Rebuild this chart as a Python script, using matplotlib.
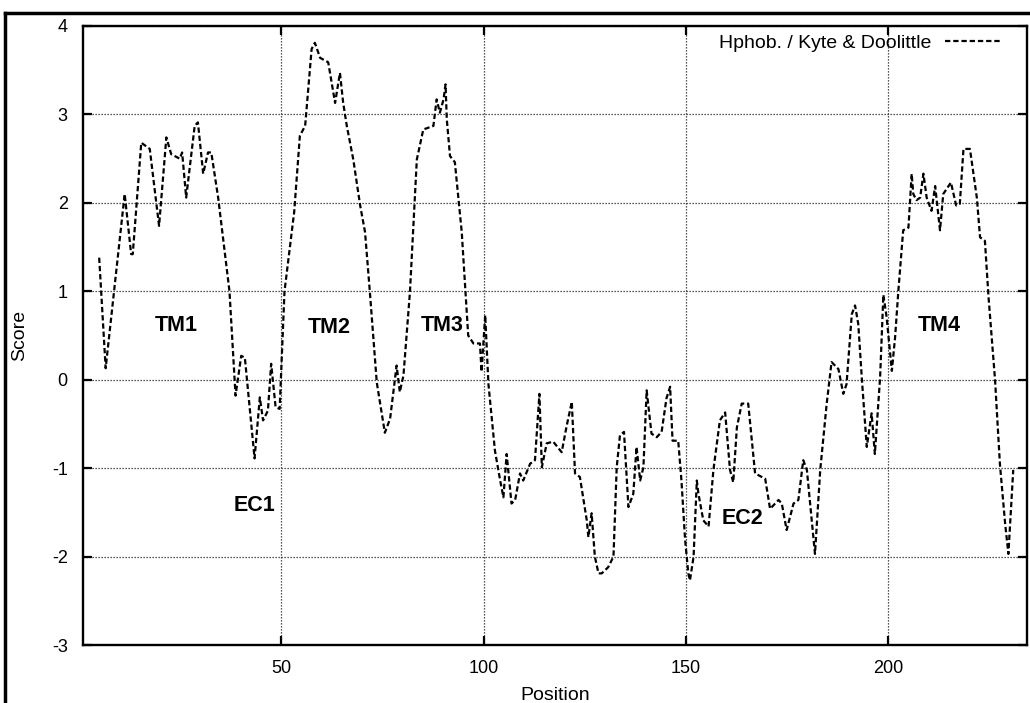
import numpy as np
import matplotlib
matplotlib.use('Agg')
import matplotlib.pyplot as plt
from matplotlib.lines import Line2D

plt.rcParams['font.family'] = ['Liberation Sans', 'DejaVu Sans']
plt.rcParams['axes.unicode_minus'] = False

# hydropathy profile vertices (position, score)
position = [5, 6.6, 11.3, 12.9, 13.3, 15.4, 17.5, 19.8, 21.6, 22.8, 24.9, 25.5, 26.5,
            28.6, 29.4, 30.7, 31.9, 32.7, 34.4, 37.2, 38.5, 38.7, 40.1, 41.0, 43.4,
            44.7, 45.5, 46.7, 47.5, 48.6, 49.6, 50.8, 53.2, 54.6, 55.9, 57.5, 58.3,
            59.6, 61.6, 63.3, 64.5, 65.3, 66.2, 67.8, 69.5, 70.7, 71.9, 73.6, 75.6,
            76.9, 78.5, 79.3, 80.2, 81.8, 83.5, 85.1, 87.6, 88.4, 89.2, 90.1, 90.6,
            90.9, 91.7, 92.9, 94.6, 96.2, 97.5, 99.1, 99.5, 100.4, 101.2, 102.8,
            104.1, 104.9, 105.7, 106.9, 107.8, 109.0, 109.8, 111.5, 112.7, 113.8,
            114.4, 115.6, 117.2, 119.3, 120.5, 121.8, 122.6, 123.8, 125.5, 125.9,
            126.7, 127.5, 128.4, 129.2, 130.8, 132.1, 132.9, 133.7, 134.7, 135.8,
            137.0, 137.8, 138.7, 139.5, 140.3, 141.5, 142.8, 144.0, 145.2, 146.1,
            146.7, 148.1, 148.9, 149.8, 150.6, 151.0, 151.9, 152.7, 153.1, 154.3,
            155.6, 156.8, 158.4, 159.7, 160.9, 161.7, 162.6, 163.8, 165.4, 167.1,
            169.6, 170.8, 172.9, 173.7, 174.9, 176.6, 177.8, 179.0, 179.9, 180.7,
            181.9, 183.2, 184.8, 186.0, 187.7, 188.9, 189.7, 191.0, 191.8, 192.6,
            193.5, 194.7, 195.9, 196.7, 198.0, 198.8, 199.6, 200.9, 201.7, 202.5,
            203.7, 205.0, 205.8, 206.2, 207.0, 207.9, 208.7, 209.5, 210.7, 211.6,
            212.8, 213.6, 215.5, 216.8, 217.7, 218.6, 220.2, 221.9, 222.7, 223.9,
            224.8, 226.4, 227.6, 228.9, 229.7, 230.9]
score = [1.38, 0.13, 2.10, 1.42, 1.42, 2.68, 2.61, 1.74, 2.74, 2.55, 2.50, 2.57, 2.06,
         2.87, 2.91, 2.33, 2.57, 2.57, 2.06, 1.00, -0.04, -0.18, 0.27, 0.25, -0.89,
         -0.20, -0.46, -0.35, 0.18, -0.31, -0.33, 1.00, 1.90, 2.76, 2.87, 3.74, 3.81,
         3.64, 3.59, 3.13, 3.47, 3.13, 2.87, 2.49, 1.97, 1.67, 0.99, -0.03, -0.60,
         -0.44, 0.16, -0.14, 0.05, 0.99, 2.49, 2.83, 2.87, 3.17, 3.02, 3.17, 3.34,
         2.95, 2.53, 2.46, 1.67, 0.50, 0.41, 0.41, 0.09, 0.73, -0.05, -0.80,
         -1.14, -1.33, -0.84, -1.40, -1.36, -1.06, -1.14, -0.95, -0.91, -0.16,
         -0.99, -0.72, -0.70, -0.82, -0.53, -0.25, -1.06, -1.10, -1.59, -1.78,
         -1.51, -2.00, -2.19, -2.19, -2.12, -2.00, -0.99, -0.63, -0.59, -1.44,
         -1.29, -0.76, -1.14, -0.99, -0.12, -0.61, -0.65, -0.59, -0.21, -0.08,
         -0.69, -0.69, -1.14, -1.81, -2.19, -2.27, -2.00, -1.14, -1.29, -1.59,
         -1.66, -1.02, -0.46, -0.37, -1.02, -1.16, -0.54, -0.27, -0.27, -1.06,
         -1.12, -1.46, -1.36, -1.40, -1.70, -1.40, -1.36, -0.91, -1.02, -1.40,
         -1.97, -1.02, -0.27, 0.20, 0.12, -0.16, -0.05, 0.74, 0.84, 0.63,
         0.00, -0.76, -0.38, -0.84, 0.03, 0.96, 0.71, 0.10, 0.48, 1.00,
         1.69, 1.72, 2.33, 2.10, 2.03, 2.06, 2.33, 2.06, 1.91, 2.19,
         1.69, 2.10, 2.23, 1.97, 1.99, 2.61, 2.61, 2.06, 1.61, 1.57,
         0.93, 0.00, -0.95, -1.63, -1.97, -1.02]

regions = ['TM1', 'TM2', 'TM3', 'TM4', 'EC1', 'EC2']
region_x = [24.1, 61.8, 89.7, 212.5, 43.3, 164.1]
region_y = [0.61, 0.59, 0.61, 0.61, -1.42, -1.57]

xticks = [50, 100, 150, 200]
yticks = [-3, -2, -1, 0, 1, 2, 3, 4]

fig = plt.figure(figsize=(10.3, 7.03), dpi=100)
ax = fig.add_axes([83 / 1030, 1 - 645 / 703, (1027 - 83) / 1030, (645 - 26) / 703])

ax.plot(position, score, color='black', lw=1.6, linestyle=(0, (2.4, 1.3)),
        label='Hphob. / Kyte & Doolittle')

for name, x, y in zip(regions, region_x, region_y):
    ax.text(x, y, name, fontsize=15.5, fontweight='bold', ha='center', va='center')

ax.set_xlim(1, 234.3)
ax.set_ylim(-3, 4)
ax.set_xticks(xticks)
ax.set_yticks(yticks)
ax.grid(True, color='#222222', lw=0.9, linestyle=(0, (1, 1.4)))
ax.set_axisbelow(True)
ax.tick_params(direction='in', length=6.5, width=1.6, top=True, right=True,
               labelsize=13, pad=11)
for s in ax.spines.values():
    s.set_linewidth(1.7)

leg = ax.legend(loc='center right', bbox_to_anchor=(0.9714, 0.972), frameon=False,
                markerfirst=False, fontsize=14, handlelength=2.85, handletextpad=0.67,
                borderpad=0, borderaxespad=0)

fig.text(555 / 1030, 1 - 695 / 703, 'Position', fontsize=14, ha='center', va='center')
fig.text(20 / 1030, 1 - 335 / 703, 'Score', fontsize=14, ha='center', va='center',
         rotation=90)

# outer frame of the original figure
fig.add_artist(Line2D([5 / 1030, 1], [1 - 13 / 703, 1 - 13 / 703], color='black', lw=2.5))
fig.add_artist(Line2D([5 / 1030, 5 / 1030], [0, 1 - 13 / 703], color='black', lw=2.5))

fig.savefig('out.png', dpi=100)
